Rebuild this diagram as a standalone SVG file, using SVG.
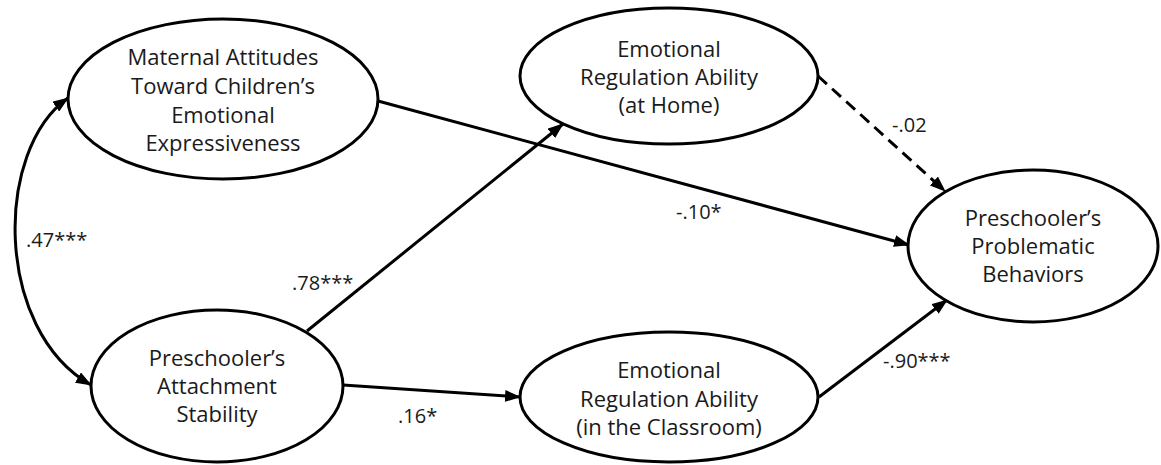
<svg xmlns="http://www.w3.org/2000/svg" width="1161" height="465" viewBox="0 0 1161 465">
<defs>
<style>
.node ellipse{fill:#fff;stroke:#000;stroke-width:3}
.node text{font-family:"Open Sans","DejaVu Sans",sans-serif;font-size:22px;fill:#1a1a1a;text-anchor:middle}
.lbl{font-family:"Open Sans","DejaVu Sans",sans-serif;font-size:20px;fill:#1a1a1a}
.edge{fill:none;stroke:#000;stroke-width:3}
.dash{stroke-dasharray:12 7}
</style>
<marker id="ah" viewBox="0 0 16 12" refX="15" refY="6" markerWidth="16" markerHeight="12" markerUnits="userSpaceOnUse" orient="auto-start-reverse">
<path d="M0,0 L16,6 L0,12 z" fill="#000"/>
</marker>
</defs>
<rect width="1161" height="465" fill="#fff"/>
<g id="connectors">
<path class="edge" d="M91,385 C-6,330 -6,150 68,98" marker-start="url(#ah)" marker-end="url(#ah)"/>
<line class="edge" x1="378" y1="101" x2="909" y2="245" marker-end="url(#ah)"/>
<line class="edge" x1="307" y1="331" x2="563" y2="124" marker-end="url(#ah)"/>
<line class="edge" x1="343" y1="385" x2="520" y2="397" marker-end="url(#ah)"/>
<line class="edge" x1="819" y1="397" x2="947" y2="300" marker-end="url(#ah)"/>
<line class="edge dash" x1="818" y1="76" x2="945" y2="191" marker-end="url(#ah)"/>
<text class="lbl" x="26" y="247">.47***</text>
<text class="lbl" x="292" y="290">.78***</text>
<text class="lbl" x="676" y="219">-.10*</text>
<text class="lbl" x="892" y="132">-.02</text>
<text class="lbl" x="398" y="423">.16*</text>
<text class="lbl" x="883" y="368">-.90***</text>
</g>
<g id="maternal" class="node">
<ellipse cx="223" cy="99" rx="155" ry="80"/>
<text x="223" y="65">Maternal Attitudes</text>
<text x="223" y="94">Toward Children’s</text>
<text x="223" y="123">Emotional</text>
<text x="223" y="151">Expressiveness</text>
</g>
<g id="attachment" class="node">
<ellipse cx="217" cy="386" rx="126" ry="76"/>
<text x="217" y="366">Preschooler’s</text>
<text x="217" y="394">Attachment</text>
<text x="217" y="422">Stability</text>
</g>
<g id="home" class="node">
<ellipse cx="669" cy="76" rx="149" ry="68"/>
<text x="669" y="57">Emotional</text>
<text x="669" y="85">Regulation Ability</text>
<text x="669" y="113">(at Home)</text>
</g>
<g id="classroom" class="node">
<ellipse cx="669" cy="397" rx="149" ry="65"/>
<text x="669" y="378">Emotional</text>
<text x="669" y="407">Regulation Ability</text>
<text x="669" y="435">(in the Classroom)</text>
</g>
<g id="problematic" class="node">
<ellipse cx="1033" cy="246" rx="125" ry="76"/>
<text x="1033" y="226">Preschooler’s</text>
<text x="1033" y="254">Problematic</text>
<text x="1033" y="282">Behaviors</text>
</g>
</svg>
